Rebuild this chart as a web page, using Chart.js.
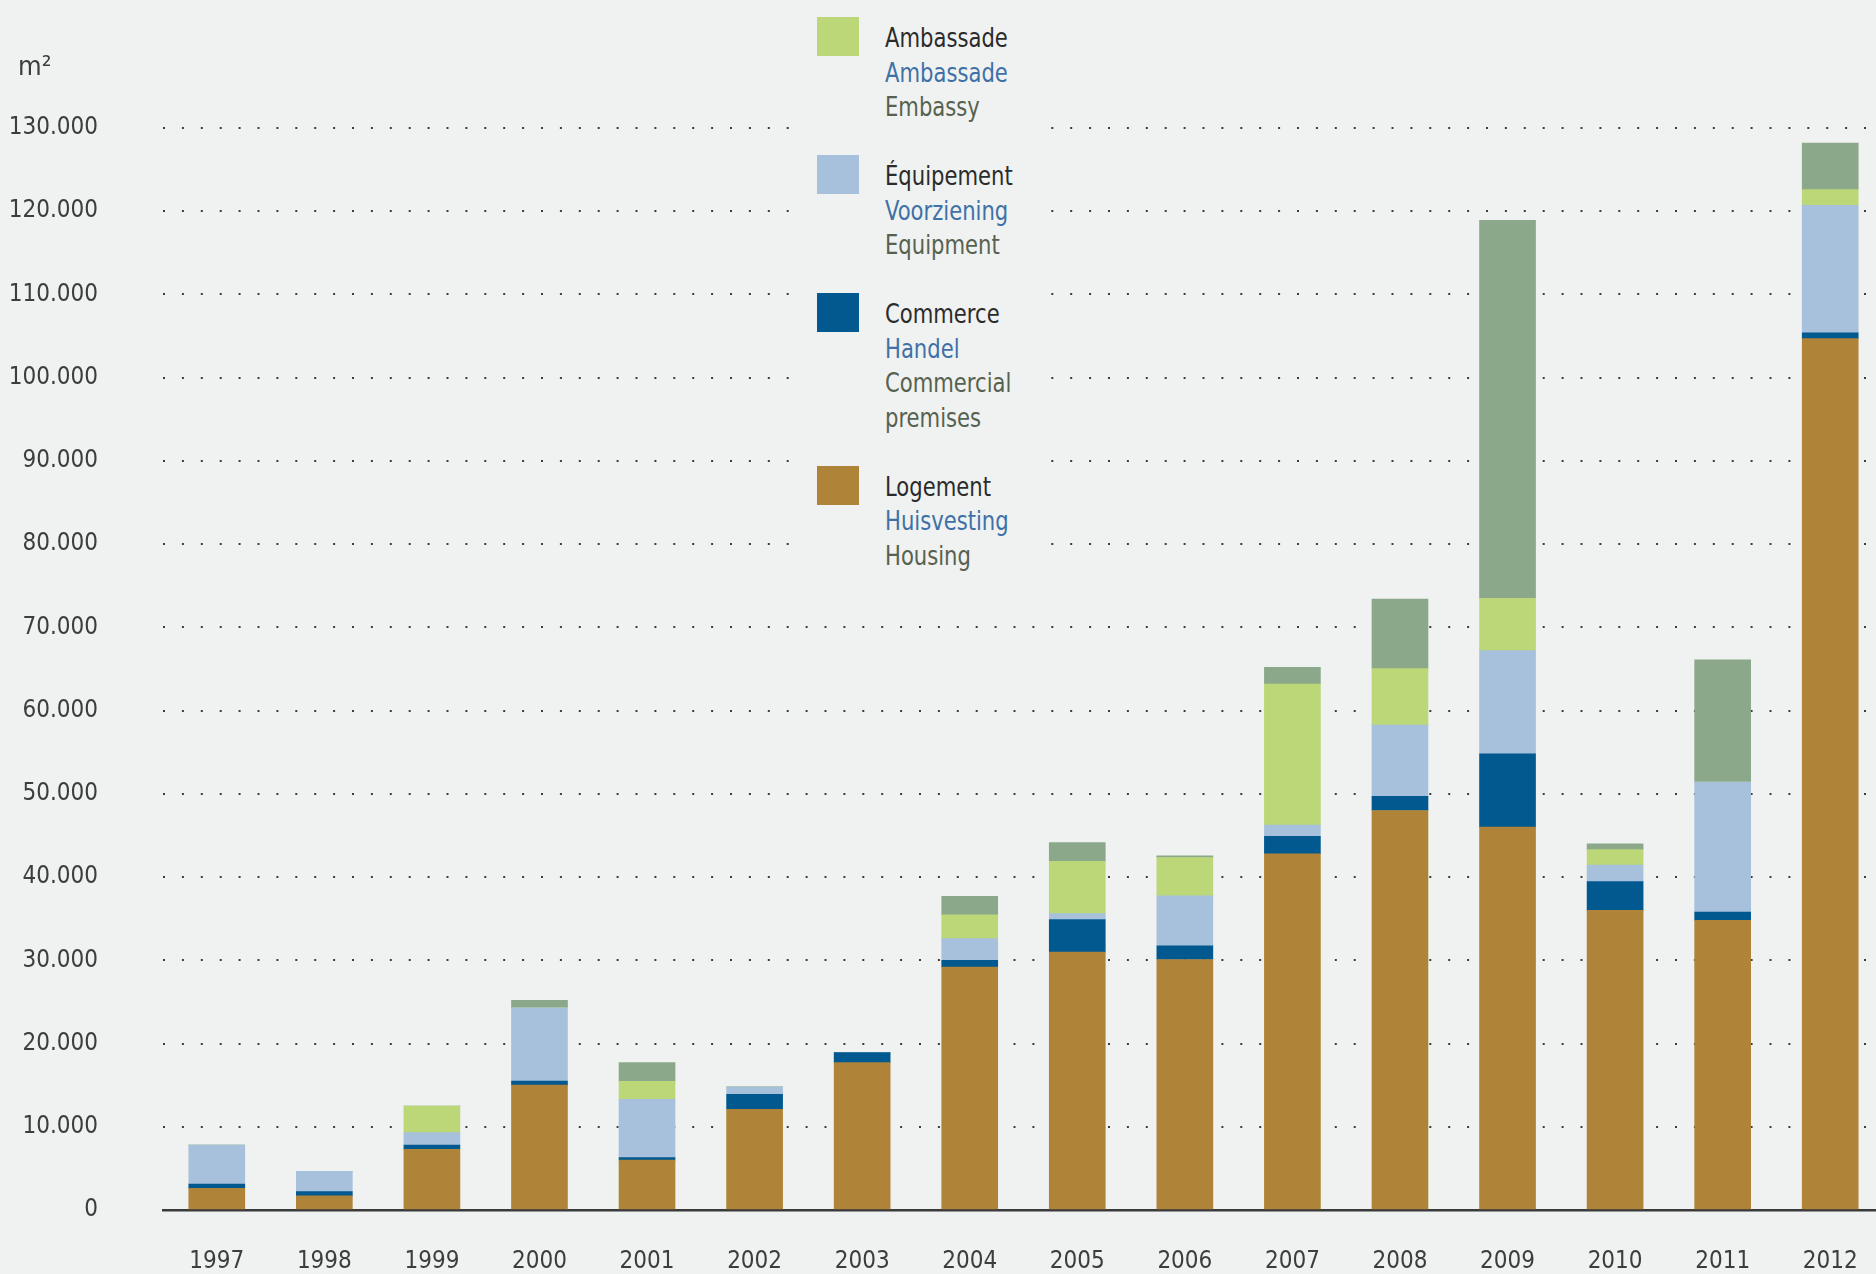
<!DOCTYPE html>
<html>
<head>
<meta charset="utf-8">
<script src="https://cdn.jsdelivr.net/npm/chart.js@4/dist/chart.umd.min.js"></script>
<style>
  html, body { margin: 0; padding: 0; background: #eff2f1; overflow: hidden; width: 1876px; height: 1274px; }
  body { position: relative; }
  #wrap { position: absolute; left: 0; top: 0; width: 1876px; height: 1274px; overflow: hidden; }
  #chart { display: block; }
  .txt { font-family: 'Liberation Sans Narrow', 'DejaVu Sans Condensed', sans-serif; font-size: 27px; }
  #unit { position: absolute; left: 18px; top: 50px; color: #3d3d3d; }
  #legend { position: absolute; left: 804px; top: 0; width: 237px; height: 578px; background: #eff2f1;
            box-sizing: border-box; padding: 21px 0 0 13px; line-height: 34.5px; }
  .grp { display: flex; margin-bottom: 34.5px; }
  .sw { width: 42px; height: 39px; margin-top: -4px; flex: none; }
  .lab { margin-left: 26px; transform: scaleX(0.87); transform-origin: left center; white-space: nowrap; }
  .l1 { color: #2b2b2b; }
  .l2 { color: #3f70a6; }
  .l3 { color: #56614f; }
</style>
</head>
<body>
<div id="wrap"><canvas id="chart" width="1890" height="1274"></canvas></div>
<div id="unit" class="txt">m²</div>
<div id="legend" class="txt"></div>
<script>
const years = ['1997', '1998', '1999', '2000', '2001', '2002', '2003', '2004', '2005', '2006', '2007', '2008', '2009', '2010', '2011', '2012'];

// m² per year, stacked from bottom to top
const logement   = [2600, 1700, 7300, 15000, 6000, 12100, 17700, 29200, 31000, 30100, 42800, 48000, 46000, 36000, 34800, 104700];
const commerce   = [500, 500, 500, 500, 300, 1800, 1200, 800, 3900, 1650, 2100, 1700, 8800, 3450, 1000, 700];
const equipement = [4700, 2450, 1500, 8800, 7000, 900, 0, 2600, 700, 6000, 1350, 8550, 12400, 2000, 15600, 15300];
const ambassade  = [0, 0, 3200, 0, 2150, 0, 0, 2850, 6300, 4600, 16950, 6800, 6300, 1850, 0, 1900];
const autres     = [0, 0, 0, 900, 2250, 0, 0, 2250, 2250, 200, 2000, 8350, 45400, 700, 14700, 5600];

const yTicks = [0, 10000, 20000, 30000, 40000, 50000, 60000, 70000, 80000, 90000, 100000, 110000, 120000, 130000];

const legendItems = [
    { color: '#bbd777', lines: ['Ambassade', 'Ambassade', 'Embassy'] },
    { color: '#a7c1dd', lines: ['Équipement', 'Voorziening', 'Equipment'] },
    { color: '#02598f', lines: ['Commerce', 'Handel', 'Commercial', 'premises'] },
    { color: '#b08438', lines: ['Logement', 'Huisvesting', 'Housing'] }
];

const font = "'Liberation Sans Narrow', 'DejaVu Sans Condensed', sans-serif";

// legend as html
let html = '';
legendItems.forEach(function(item) {
    html += '<div class="grp"><div class="sw" style="background:' + item.color + '"></div><div class="lab">';
    item.lines.forEach(function(l, i) {
        let cls = i == 0 ? 'l1' : (i == 1 ? 'l2' : 'l3');
        html += '<div class="' + cls + '">' + l + '</div>';
    });
    html += '</div></div>';
});
document.getElementById('legend').innerHTML = html;

function fmt(v) {
    return String(v).replace(/\B(?=(\d{3})+(?!\d))/g, '.');
}

var chart = new Chart(document.getElementById('chart'), {
    type: 'bar',
    data: {
        labels: years,
        datasets: [
            { label: 'Logement', data: logement, backgroundColor: '#b08438' },
            { label: 'Commerce', data: commerce, backgroundColor: '#02598f' },
            { label: 'Équipement', data: equipement, backgroundColor: '#a7c1dd' },
            { label: 'Ambassade', data: ambassade, backgroundColor: '#bbd777' },
            { label: 'Autres', data: autres, backgroundColor: '#8ca88a' }
        ]
    },
    options: {
        responsive: false,
        animation: false,
        layout: { padding: { left: 0, right: 6, top: 128, bottom: 0 } },
        datasets: { bar: { barThickness: 56, borderWidth: 0 } },
        plugins: { legend: { display: false }, tooltip: { enabled: false } },
        scales: {
            x: {
                stacked: true,
                grid: { display: false, drawTicks: false },
                border: { display: true, color: '#3a3a3a', width: 2.5 },
                ticks: { color: '#3d3d3d', font: { family: font, size: 24 }, padding: 37 },
                afterFit: function(s) {
                    s.height = 64;
                    s.paddingLeft = 0;
                    s.paddingRight = 0;
                }
            },
            y: {
                stacked: true,
                min: 0,
                max: 130000,
                afterBuildTicks: function(s) { s.ticks = yTicks.map(v => ({ value: v })); },
                grid: {
                    drawTicks: false,
                    lineWidth: 2,
                    color: function(ctx) { return ctx.tick && ctx.tick.value === 0 ? 'rgba(0,0,0,0)' : '#3c3c3c'; }
                },
                border: { display: false, dash: [2, 16.9] },
                ticks: {
                    color: '#3d3d3d',
                    font: { family: font, size: 24 },
                    padding: 65,
                    callback: function(v) { return fmt(v); }
                },
                afterFit: function(s) {
                    s.width = 163;
                    s.paddingTop = 0;
                    s.paddingBottom = 0;
                }
            }
        }
    }
});
</script>
</body>
</html>
